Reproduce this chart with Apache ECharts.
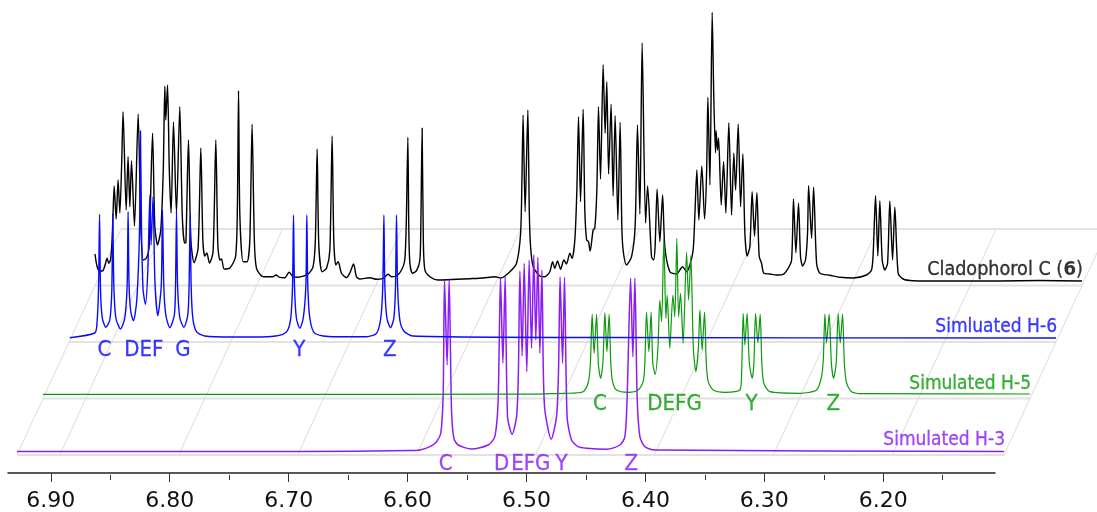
<!DOCTYPE html>
<html><head><meta charset="utf-8">
<style>html,body{margin:0;padding:0;background:#fff}#c{width:1097px;height:512px}</style>
<script src="https://cdn.jsdelivr.net/npm/echarts@6/dist/echarts.min.js"></script>
</head><body><div id="c"></div>
<script>
// [chemical shift (ppm), intensity above the trace's floor line]
const cladophorolC = [[6.936,31.7],[6.9342,19],[6.932,14.7],[6.9297,14.7],[6.9275,20.7],[6.9258,27.4],[6.9244,22.4],[6.923,25.7],[6.9214,50],[6.9199,99.7],[6.9182,66.7],[6.9166,105.7],[6.9151,72.7],[6.9135,125],[6.9124,174],[6.9098,75.7],[6.9082,129],[6.9067,79],[6.9053,125],[6.9028,59.7],[6.8997,171.7],[6.8975,60],[6.8955,25.7],[6.8927,27.7],[6.8905,38.7],[6.8876,152.4],[6.8857,60],[6.8834,40.7],[6.8807,55.7],[6.8786,115],[6.8773,199.7],[6.8765,165.7],[6.875,200.7],[6.8735,115],[6.872,72.7],[6.87,163.7],[6.8675,72.7],[6.8647,179],[6.8626,70],[6.8607,42.7],[6.8596,43],[6.8574,145.7],[6.8554,45.7],[6.8527,23],[6.8493,37.7],[6.847,137.7],[6.8453,45.7],[6.8437,29.7],[6.842,32.7],[6.8397,22.7],[6.8367,34],[6.8344,145.7],[6.8327,40.7],[6.831,25.7],[6.8296,26.7],[6.8274,16.7],[6.8226,17.7],[6.8178,29],[6.8163,75.7],[6.8153,195],[6.8142,70.7],[6.8114,24],[6.8081,24],[6.8058,45.7],[6.8039,161.4],[6.802,45.7],[6.8002,17.4],[6.7946,9],[6.7862,9],[6.7839,10.7],[6.7806,8.4],[6.7764,8],[6.7728,13.4],[6.7694,9],[6.7652,8.4],[6.7568,11.7],[6.7526,19],[6.7507,45.7],[6.7492,136.7],[6.7478,40.7],[6.745,14],[6.7413,17.4],[6.7385,35.7],[6.7366,149.7],[6.7352,45.7],[6.7335,20.7],[6.7315,24],[6.7287,12.4],[6.7245,8],[6.7217,12.7],[6.7186,21.7],[6.7161,9],[6.7133,6.7],[6.7049,8],[6.6993,6.4],[6.6937,7.4],[6.6895,11.4],[6.6866,9],[6.6824,9.7],[6.6782,15.7],[6.6755,25.7],[6.6742,65],[6.6729,148.4],[6.6721,55],[6.6712,22.4],[6.669,12.4],[6.6656,15],[6.6628,25.7],[6.662,60],[6.6609,157.4],[6.6599,45.7],[6.6586,15.7],[6.6544,9],[6.6474,5.7],[6.632,6.4],[6.6208,7],[6.6096,7.7],[6.5998,9],[6.5947,7.7],[6.5871,14],[6.5815,22.4],[6.5781,52.4],[6.577,105],[6.576,170.7],[6.5743,74],[6.572,175.7],[6.5708,75],[6.5697,39],[6.5675,19],[6.5619,9.7],[6.5577,9],[6.5535,14],[6.5512,24],[6.5493,17.4],[6.547,24.7],[6.5445,16.4],[6.5417,25.7],[6.5395,21.7],[6.5367,32.4],[6.5348,27.4],[6.5325,45.7],[6.5308,95],[6.5294,169],[6.5277,84],[6.5255,176.4],[6.5241,75.7],[6.5226,45.7],[6.521,44],[6.5196,34.7],[6.5171,55.7],[6.5157,57.4],[6.514,95],[6.5126,179],[6.5109,106.4],[6.5087,221],[6.507,152.4],[6.5056,204],[6.5041,111.7],[6.502,181.4],[6.5003,89.7],[6.4986,170],[6.4963,65.7],[6.4944,163.4],[6.493,60.7],[6.4919,35.7],[6.489,20.7],[6.4848,29],[6.4818,59],[6.4798,160.7],[6.4778,71.7],[6.4759,242.7],[6.473,62.7],[6.4713,99.7],[6.468,29],[6.4663,25.7],[6.465,39],[6.4633,96.4],[6.461,44],[6.4587,90.7],[6.4568,39],[6.4526,14],[6.447,11.7],[6.4419,19],[6.4385,14],[6.4358,20.7],[6.433,35.7],[6.4316,69],[6.4299,115.7],[6.4282,65.7],[6.4257,119.7],[6.4234,66.7],[6.4217,112.4],[6.4206,188.4],[6.4189,100.7],[6.417,273.4],[6.4156,185.7],[6.4142,133],[6.4137,155],[6.4125,135.7],[6.4116,147.4],[6.4094,80.7],[6.4074,124],[6.4055,72.7],[6.403,163],[6.4007,70.7],[6.3988,132.4],[6.3973,95.7],[6.3951,161.4],[6.3931,79],[6.3912,131.7],[6.3895,52.7],[6.3876,29.7],[6.3853,39],[6.3834,94],[6.3814,49.7],[6.3794,93],[6.3775,29.7],[6.3755,22.4],[6.3735,12.4],[6.3685,11.7],[6.3629,10.7],[6.3573,11.4],[6.3531,17.4],[6.3502,25.7],[6.3486,86.7],[6.3466,33],[6.3444,82.4],[6.3427,29],[6.341,19.7],[6.3385,25.7],[6.3368,52.7],[6.3359,100],[6.3334,47.4],[6.3317,98.4],[6.3292,22.4],[6.3264,12.4],[6.318,10.4],[6.3096,8.4],[6.2984,7.7],[6.2872,10.7],[6.283,15.7],[6.2816,32.4],[6.2796,90],[6.2777,29.7],[6.276,84.7],[6.274,25.7],[6.2718,15.7],[6.2695,22.4],[6.2676,84.7],[6.2653,25.7],[6.2634,78.4],[6.2606,12.4],[6.2564,6.7],[6.248,5],[6.2171,4.7],[6.175,4.7],[6.1414,5.2],[6.106,4.7]];

const simulatedH6 = [[6.9353,4],[6.9143,8.7],[6.9126,16.7],[6.9112,51.7],[6.9103,127.4],[6.9095,51.7],[6.908,23.7],[6.905,14.4],[6.9017,21.7],[6.9,51.7],[6.8992,128.4],[6.8983,56.7],[6.8966,23.7],[6.8927,12.7],[6.8891,23.7],[6.8871,56.7],[6.8863,130],[6.8855,56.7],[6.884,29.7],[6.8818,21],[6.879,41.7],[6.8767,111.7],[6.8759,210.7],[6.875,111.7],[6.8737,51.7],[6.8717,37.4],[6.8697,71.7],[6.868,146.7],[6.867,96.7],[6.8653,145],[6.8638,61.7],[6.8613,26],[6.8584,56.7],[6.8574,131.7],[6.8563,56.7],[6.8546,26.7],[6.8512,14],[6.8474,26.7],[6.8464,56.7],[6.8456,130],[6.8447,56.7],[6.8428,23.7],[6.8394,14.4],[6.8361,26.7],[6.835,56.7],[6.8341,126.7],[6.8333,56.7],[6.8319,23.7],[6.8288,10],[6.8218,5.7],[6.7982,4.7],[6.7696,5],[6.7562,7.4],[6.752,11.7],[6.7495,23.7],[6.748,56.7],[6.7472,126.7],[6.7464,56.7],[6.7448,23.7],[6.7419,13.4],[6.739,23.7],[6.7368,56.7],[6.736,126.7],[6.7352,56.7],[6.7335,23.7],[6.7293,8.4],[6.7141,5],[6.6858,5],[6.6774,8.4],[6.6738,23.7],[6.6721,56.7],[6.6712,126.7],[6.6704,56.7],[6.6687,23.7],[6.6656,14],[6.6628,23.7],[6.6614,56.7],[6.6606,126.7],[6.6597,56.7],[6.6578,21.7],[6.6544,10.7],[6.6469,5.7],[6.4896,4.2],[6.106,3.7]];

const simulatedH5 = [[6.936,4.2],[6.72,4.2],[6.5518,4.3],[6.4957,5.2],[6.4818,6.8],[6.4776,15.5],[6.4757,35],[6.4742,84.2],[6.4725,45.2],[6.4705,84.2],[6.469,35],[6.4671,20.2],[6.4652,35],[6.4635,85.8],[6.4618,46.8],[6.4599,84.2],[6.4585,35],[6.457,16.8],[6.4537,8.5],[6.4439,6.2],[6.4355,8.5],[6.4313,16.8],[6.4299,35],[6.4285,86.2],[6.4265,46.8],[6.4246,86.2],[6.4232,35],[6.4212,24.2],[6.4189,50],[6.4173,98.5],[6.4158,76.8],[6.4139,160.2],[6.4122,80.2],[6.4111,103.5],[6.4089,50.2],[6.4063,103.5],[6.4047,81.8],[6.403,160.2],[6.4015,81.8],[6.3999,105.2],[6.3977,55.2],[6.3948,146.2],[6.3931,98.5],[6.3912,142.8],[6.3891,50],[6.387,26.8],[6.3849,50],[6.3836,88.5],[6.3817,48.5],[6.3797,86.2],[6.3782,35],[6.3766,16.8],[6.3724,8.5],[6.3626,6.2],[6.35,8.5],[6.3486,21.8],[6.3472,85.2],[6.3458,53.5],[6.3439,85.2],[6.342,35],[6.3396,20.2],[6.3382,35],[6.3368,85.2],[6.3348,55.5],[6.3329,84.5],[6.3315,35],[6.3298,15.2],[6.3248,6.8],[6.2995,5.2],[6.2855,8.5],[6.2813,21.8],[6.2798,40],[6.2785,84.5],[6.2771,55.5],[6.2749,84.5],[6.273,35],[6.2712,20.2],[6.269,35],[6.2673,85.2],[6.2656,55.5],[6.2636,84.5],[6.2621,35],[6.2602,15.5],[6.256,6.8],[6.2463,4.8],[6.106,4.5]];

const simulatedH3 = [[6.936,3.5],[6.6982,3.5],[6.6057,4.5],[6.5972,5],[6.5888,8.3],[6.5832,13.3],[6.5796,22],[6.5776,62],[6.5765,175.7],[6.5743,90],[6.5726,175.7],[6.5706,45],[6.5686,16.7],[6.565,10],[6.5538,6],[6.5398,10],[6.5342,18.3],[6.5314,55],[6.5294,177.7],[6.5274,91.7],[6.5255,178.3],[6.5235,38.3],[6.5196,20.7],[6.5159,38.3],[6.5144,80],[6.5131,184],[6.5112,99],[6.5095,191.7],[6.5073,83.3],[6.5053,195],[6.5033,106.7],[6.5014,200.3],[6.4997,115],[6.498,197.7],[6.4963,101.7],[6.4946,185],[6.4934,85],[6.4921,45],[6.4868,15.7],[6.4823,38.3],[6.4806,85],[6.4793,178.3],[6.4772,91.7],[6.4756,177.7],[6.4734,38.3],[6.4697,15],[6.4641,8.3],[6.4571,6.7],[6.4402,5.7],[6.429,10],[6.4248,18.3],[6.4229,58.3],[6.42,176.7],[6.4181,98.3],[6.4164,176.7],[6.4145,58.3],[6.4122,18.3],[6.408,8.3],[6.3996,5],[6.106,3.5]];

// peak-group letters: [ppm, height, text]
const h6Letters = [[6.9063,-8.5,'C'],[6.8731,-8.5,'DEF'],[6.8403,-8.5,'G'],[6.7423,-8.5,'Y'],[6.6662,-8.5,'Z']];
const h5Letters = [[6.4677,-6,'C'],[6.4049,-6,'DEFG'],[6.3401,-6,'Y'],[6.2715,-6,'Z']];
const h3Letters = [[6.5756,-9.5,'C'],[6.5285,-9.5,'D'],[6.5039,-9.5,'EFG'],[6.4781,-9.5,'Y'],[6.4195,-9.5,'Z']];
const traceNames = ['{n|Cladophorol C (}{b|6}{n|)}','Simluated H-6','Simulated H-5','Simulated H-3'];

const majorTicks = [6.9,6.8,6.7,6.6,6.5,6.4,6.3,6.2];
const minorTicks = [6.85,6.75,6.65,6.55,6.45,6.35,6.25,6.15];
const ppmLow = 6.106, ppmHigh = 6.936;

// layout
const W = 987, BASE_X = 8;
const FONT = '"DejaVu Sans Condensed","DejaVu Sans",sans-serif';
const PPM_PER_PX = (ppmHigh - ppmLow) / W;
const layers = [
  {data: cladophorolC, color:'#000000', dx:87, floor:285.7, lw:1.4, z:3, letters:[],        name:traceNames[0], fs:19.6, nameY:15.7},
  {data: simulatedH3,  color:'#8a1cf5', dx:9,  floor:455,   lw:1.5, z:4, letters:h3Letters, name:traceNames[3], fs:19, nameY:14.5},
  {data: simulatedH5,  color:'#0a9a0a', dx:35, floor:398.5, lw:1.2, z:5, letters:h5Letters, name:traceNames[2], fs:19, nameY:14.5},
  {data: simulatedH6,  color:'#0a0aff', dx:61, floor:341.7, lw:1.4, z:6, letters:h6Letters, name:traceNames[1], fs:19, nameY:15}
];
const floorOffsets = [9,35,61,87,113];

const grid=[], xAxis=[], yAxis=[], series=[];
function addGrid(g,x,y){ grid.push(g); x.gridIndex=y.gridIndex=grid.length-1; xAxis.push(x); yAxis.push(y); return grid.length-1; }
const hidX = ()=>({type:'value',show:false,inverse:true,min:ppmLow,max:ppmHigh});

// floor plane
const floorLow = ppmHigh - 1089*PPM_PER_PX;
const fi = addGrid({left:BASE_X,top:229,width:1089,height:226},
  {type:'value',show:false,inverse:true,min:floorLow,max:ppmHigh},
  {type:'value',show:false,min:0,max:4});
const shift = floorOffsets.map(o=>o*PPM_PER_PX);
shift.forEach((s,i)=>{
  series.push({type:'line',xAxisIndex:fi,yAxisIndex:fi,z:1,silent:true,showSymbol:false,
    lineStyle:{color:'#e2e2e2',width:1.8},
    data:[[ppmHigh-s,i],[Math.max(ppmLow-s,floorLow),i]]});
});
[ppmHigh,...majorTicks,ppmLow].forEach(t=>{
  series.push({type:'line',xAxisIndex:fi,yAxisIndex:fi,z:1,silent:true,showSymbol:false,
    lineStyle:{color:'#dcdcdc',width:1},
    data:[[t-shift[0],0],[t-shift[4],4]]});
});

// bottom axis, major ticks + labels
addGrid({left:BASE_X,top:0,width:W,height:475},
  {type:'value',position:'bottom',inverse:true,min:ppmLow,max:ppmHigh,splitLine:{show:false},
   axisLine:{show:true,onZero:false,lineStyle:{color:'#222',width:1.5}},
   axisTick:{show:true,length:9,customValues:majorTicks,lineStyle:{color:'#333',width:1}},
   axisLabel:{show:true,margin:17,fontSize:22,color:'#111',fontFamily:'"DejaVu Sans",sans-serif',
     customValues:majorTicks,formatter:v=>Number(v).toFixed(2)}},
  {type:'value',show:false,min:0,max:1});
// minor ticks
addGrid({left:BASE_X,top:0,width:W,height:475},
  {type:'value',position:'bottom',inverse:true,min:ppmLow,max:ppmHigh,splitLine:{show:false},
   axisLine:{show:false,onZero:false},
   axisTick:{show:true,length:5,customValues:minorTicks,lineStyle:{color:'#333',width:1}},
   axisLabel:{show:false}},
  {type:'value',show:false,min:0,max:1});

// spectra
layers.forEach(L=>{
  const i = addGrid({left:BASE_X+L.dx,top:0,width:W,height:L.floor+30}, hidX(),
    {type:'value',show:false,min:-30,max:L.floor});
  series.push({type:'line',xAxisIndex:i,yAxisIndex:i,z:L.z,silent:true,showSymbol:false,
    smooth:0.25,sampling:false,
    lineStyle:{color:L.color,width:L.lw,join:'round'},data:L.data});
  const ink = {color:L.color,textBorderColor:L.color,textBorderWidth:0.3};
  series.push({type:'scatter',xAxisIndex:i,yAxisIndex:i,z:7,silent:true,clip:false,symbolSize:1,
    itemStyle:{color:'rgba(0,0,0,0)'},
    label:{show:true,position:'inside',fontFamily:FONT,fontSize:22,...ink,formatter:p=>p.data[2]},
    data:L.letters});
  series.push({type:'scatter',xAxisIndex:i,yAxisIndex:i,z:7,silent:true,clip:false,symbolSize:1,
    itemStyle:{color:'rgba(0,0,0,0)'},
    label:{show:true,position:'left',distance:0,offset:[1.5,0],fontFamily:FONT,fontSize:L.fs,...ink,formatter:p=>p.data[2],
      rich:{n:{fontFamily:FONT,fontSize:L.fs,...ink},
            b:{fontFamily:'"DejaVu Sans",sans-serif',fontSize:L.fs-1,fontWeight:'bold',color:L.color,textBorderWidth:0}}},
    data:[[ppmLow,L.nameY,L.name]]});
});

const chart = echarts.init(document.getElementById('c'),null,{renderer:'canvas'});
chart.setOption({animation:false,backgroundColor:'#fff',grid,xAxis,yAxis,series,tooltip:{show:false},legend:{show:false}});
</script></body></html>
